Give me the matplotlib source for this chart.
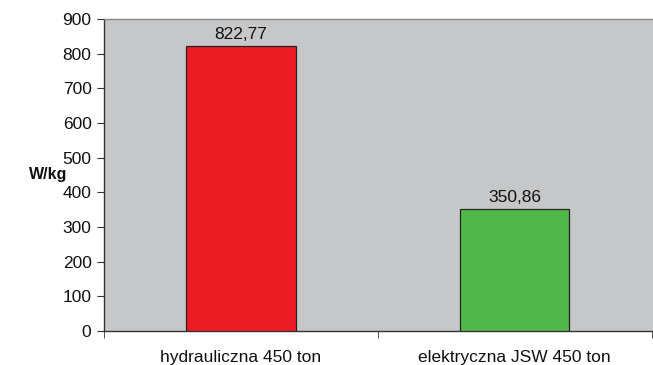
import matplotlib
matplotlib.use("Agg")
import matplotlib.pyplot as plt
import numpy as np

categories = ["hydrauliczna 450 ton", "elektryczna JSW 450 ton"]
values = [822.77, 350.86]
value_labels = ["822,77", "350,86"]
bar_colors = ["#ED1C24", "#50B848"]
yticks = [0, 100, 200, 300, 400, 500, 600, 700, 800, 900]

plt.rcParams['font.family'] = ['Liberation Sans', 'DejaVu Sans']

fig = plt.figure(figsize=(6.53, 3.65), dpi=100)
W, H = 653, 365
ax = fig.add_axes([104 / W, 1 - 331 / H, (653 - 104) / W, (331 - 19) / H])
ax.set_facecolor("#C6C7C9")

fs = 12.5
x = np.arange(len(categories))
ax.bar(x, values, width=0.4, color=bar_colors, edgecolor="#222222", linewidth=0.9, zorder=3)
for xi, v, lab in zip(x, values, value_labels):
    ax.annotate(lab, (xi, v), xytext=(0, 3), textcoords="offset points",
                ha="center", va="bottom", fontsize=fs, color="#111111")

ax.set_xlim(-0.5, len(categories) - 0.5 + 0.005)
ax.set_ylim(0, 900)
ax.set_yticks(yticks)
ax.set_yticklabels([str(t) for t in yticks], fontsize=fs, color="#111111")
ax.set_xticks(x)
ax.set_xticklabels(categories, fontsize=fs, color="#111111")
ax.tick_params(axis="x", length=0, pad=14)
ax.set_xticks([-0.5, 0.5, 1.5], minor=True)
ax.tick_params(axis="x", which="minor", length=5, direction="out", color="#333333")
ax.tick_params(axis="y", length=5, direction="out", color="#333333", pad=4)

for s in ["left", "bottom"]:
    ax.spines[s].set_color("#333333")
    ax.spines[s].set_linewidth(1.0)
ax.spines["top"].set_color("#888888")
ax.spines["top"].set_linewidth(1.0)
ax.spines["right"].set_visible(False)

fig.text(48 / W, 1 - 174 / H, "W/kg", fontsize=11.5, fontweight="bold",
         ha="center", va="center", color="#111111")

fig.savefig("out.png", dpi=100)
